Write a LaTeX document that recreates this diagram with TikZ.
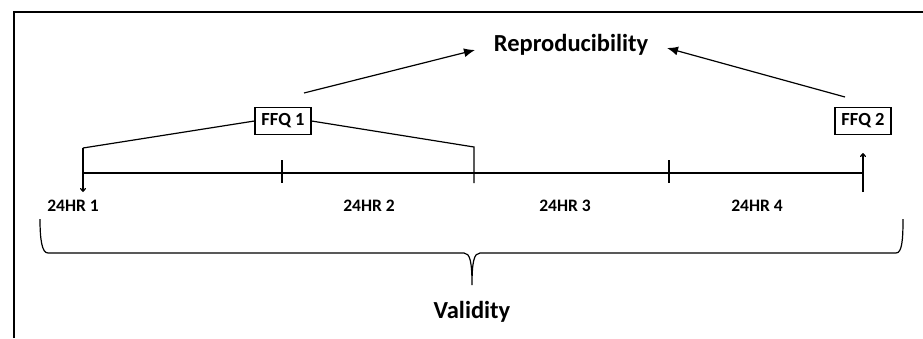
\documentclass[tikz,border=0pt]{standalone}
\usepackage{fontspec}
\setmainfont{Carlito}
\usetikzlibrary{arrows.meta}
\begin{document}
\begin{tikzpicture}[x=1pt,y=1pt,
  lbl/.style={font=\fontsize{17.5}{19}\selectfont\bfseries, inner sep=0pt},
  ffqbox/.style={draw, line width=1.2pt, font=\fontsize{18.5}{20}\selectfont\bfseries, minimum width=56pt, minimum height=27pt, inner sep=0pt},
  ln/.style={line width=1.2pt},
  bigarrow/.style={line width=1.2pt, -{Latex[length=11pt,width=9pt]}},
  smallarrow/.style={line width=1.2pt, -{To[length=4pt,width=6pt]}}]
\useasboundingbox (0,0) rectangle (923,-338);
% frame
\draw[line width=2pt] (14,-338) -- (14,-12) -- (923,-12);
% texts
\node[font=\fontsize{24.5}{26}\selectfont\bfseries, inner sep=0pt] (repro) at (571,-45) {Reproducibility};
\node[ffqbox] (ffq1) at (283,-121) {FFQ 1};
\node[ffqbox] (ffq2) at (863,-121) {FFQ 2};
\node[lbl] (h1) at (73,-206) {24HR 1};
\node[lbl] (h2) at (369,-206) {24HR 2};
\node[lbl] (h3) at (565,-206) {24HR 3};
\node[lbl] (h4) at (757,-206) {24HR 4};
\node[font=\fontsize{24.5}{26}\selectfont\bfseries, inner sep=0pt] (valid) at (472,-312) {Validity};
% coordinates
\coordinate (t0) at (83,-173);
\coordinate (t4) at (863,-173);
\coordinate (b1) at (83,-148);
\coordinate (b1d) at (83,-192);
\coordinate (b2) at (474,-147);
\coordinate (b2d) at (474,-183);
\coordinate (k1t) at (282,-160);
\coordinate (k1b) at (282,-183);
\coordinate (k3t) at (669,-160);
\coordinate (k3b) at (669,-183);
\coordinate (u0) at (863,-192);
\coordinate (u1) at (863,-153);
\coordinate (a1s) at (304,-93);
\coordinate (a1e) at (475,-50);
\coordinate (a2s) at (845,-97);
\coordinate (a2e) at (667,-48);
% timeline
\draw[ln] (t0) -- (t4);
\draw[ln] (k1t) -- (k1b);
\draw[ln] (k3t) -- (k3b);
\draw[smallarrow] (u0) -- (u1);
% FFQ1 bracket
\draw[ln] (ffq1.west) -- (b1);
\draw[smallarrow] (b1) -- (b1d);
\draw[ln] (ffq1.east) -- (b2) -- (b2d);
% reproducibility arrows
\draw[bigarrow] (a1s) -- (a1e);
\draw[bigarrow] (a2s) -- (a2e);
% validity brace
\draw[ln] (40,-219) .. controls (40,-240) and (42,-253) .. (48,-253)
  -- (464,-253) .. controls (470,-253) and (472,-262) .. (472,-285)
  .. controls (472,-262) and (474,-253) .. (480,-253)
  -- (896,-253) .. controls (902,-253) and (903,-240) .. (903,-219);
\end{tikzpicture}
\end{document}
